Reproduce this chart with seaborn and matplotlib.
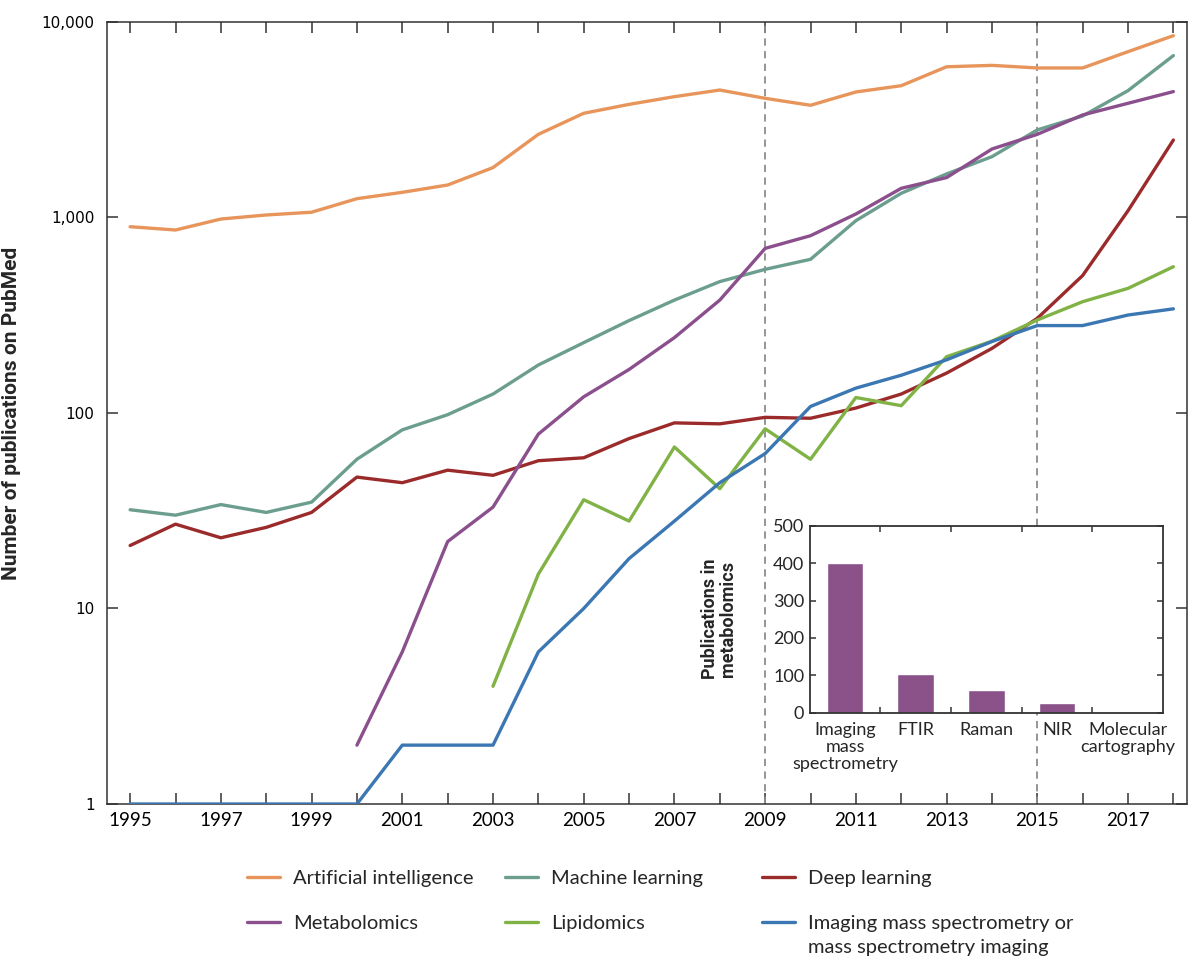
import numpy as np
import pandas as pd
import matplotlib
matplotlib.use("Agg")
import matplotlib.pyplot as plt
from matplotlib.lines import Line2D
from matplotlib.ticker import NullLocator, FixedLocator
import seaborn as sns

# publications per year on PubMed
years = list(range(1995, 2019))
nan = np.nan
artificial_intelligence = [897, 863, 982, 1030, 1064, 1248, 1345, 1466, 1800, 2663,
                           3412, 3790, 4150, 4487, 4070, 3750, 4385, 4722, 5900, 6000,
                           5820, 5820, 7050, 8510]
machine_learning = [32, 30, 34, 31, 35, 58, 82, 98, 125, 176,
                    229, 297, 378, 470, 543, 611, 963, 1330, 1670, 2047,
                    2805, 3306, 4455, 6730]
deep_learning = [21, 27, 23, 26, 31, 47, 44, 51, 48, 57,
                 59, 74, 89, 88, 95, 94, 106, 125, 160, 214,
                 305, 505, 1083, 2490]
metabolomics = [nan] * 5 + [2, 6, 22, 33, 78, 121, 167, 243, 378, 695,
                            807, 1042, 1410, 1600, 2240, 2663, 3345, 3838, 4405]
lipidomics = [nan] * 8 + [4, 15, 36, 28, 67, 41, 83, 58, 120, 109,
                          194, 233, 299, 371, 434, 560]
imaging_ms = [1, 1, 1, 1, 1, 1, 2, 2, 2, 6,
              10, 18, 28, 44, 62, 108, 134, 156, 187, 232,
              280, 280, 317, 341]

series_names = ["Artificial intelligence", "Machine learning", "Deep learning",
                "Metabolomics", "Lipidomics",
                "Imaging mass spectrometry or mass spectrometry imaging"]
legend_labels = ["Artificial intelligence", "Machine learning", "Deep learning",
                 "Metabolomics", "Lipidomics", "Imaging mass spectrometry or"]
legend_extra = "mass spectrometry imaging"
series_colors = ["#e8955c", "#6b9e8f", "#9b2b2b", "#8a4f8c", "#80b246", "#3b77b3"]

# inset: publications in metabolomics by technique
techniques = ["Imaging\nmass\nspectrometry", "FTIR", "Raman", "NIR", "Molecular\ncartography"]
technique_counts = [400, 103, 62, 27, 3]

marker_years = [2009, 2015]

sns.set_theme(style="ticks")
plt.rcParams["font.family"] = ["Lato", "DejaVu Sans"]
bold_family = ["Roboto", "DejaVu Sans"]
spine_col = "#333333"

df = pd.DataFrame({"year": years,
                   series_names[0]: artificial_intelligence,
                   series_names[1]: machine_learning,
                   series_names[2]: deep_learning,
                   series_names[3]: metabolomics,
                   series_names[4]: lipidomics,
                   series_names[5]: imaging_ms})
long_df = df.melt(id_vars="year", var_name="series", value_name="count").dropna()

fig = plt.figure(figsize=(11.89, 9.56), dpi=100)
ax = fig.add_axes([0.090, 0.159, 0.9083, 0.818])

for yr in marker_years:
    ax.axvline(yr, color="#8c8c8c", ls=(0, (4, 3)), lw=1.3, zorder=1)

sns.lineplot(data=long_df, x="year", y="count", hue="series",
             hue_order=series_names, palette=dict(zip(series_names, series_colors)),
             linewidth=2.4, estimator=None, errorbar=None, legend=False, ax=ax, zorder=3)

ax.set_yscale("log")
ax.set_ylim(1, 10000)
ax.set_xlim(1994.49, 2018.3)
ax.yaxis.set_major_locator(FixedLocator([1, 10, 100, 1000, 10000]))
ax.yaxis.set_minor_locator(NullLocator())
ax.set_yticklabels(["1", "10", "100", "1,000", "10,000"], family="DejaVu Sans", fontsize=11)
ax.set_xticks(years)
ax.set_xticklabels([str(y) if y % 2 == 1 else "" for y in years], fontsize=13.5)
ax.tick_params(axis="both", direction="in", length=8, width=1.1, color=spine_col,
               top=True, right=True, labelcolor="black")
ax.tick_params(axis="x", pad=6)
ax.tick_params(axis="y", pad=9)
for s in ax.spines.values():
    s.set_color(spine_col)
    s.set_linewidth(1.1)
ax.set_xlabel("")
ax.set_ylabel("Number of publications on PubMed", fontsize=15, fontweight="bold",
              family=bold_family)
ax.yaxis.set_label_coords(-0.0796, 0.5)

# inset bar chart
axin = fig.add_axes([0.681, 0.2545, 0.297, 0.1956])
axin.set_facecolor("white")
sns.barplot(x=techniques, y=technique_counts, color="#8b5189", saturation=1,
            width=0.52, ax=axin)
axin.set_xlim(-0.5, 4.5)
axin.set_ylim(0, 500)
axin.set_yticks([0, 100, 200, 300, 400, 500])
axin.tick_params(axis="y", direction="in", length=4, width=1.1, color=spine_col,
                 left=True, right=True, labelsize=13, pad=4)
axin.tick_params(axis="x", which="major", length=0, labelsize=13, pad=7)
axin.xaxis.set_minor_locator(FixedLocator([0.5, 1.5, 2.5, 3.5]))
axin.tick_params(axis="x", which="minor", direction="in", length=4, width=1.1,
                 color=spine_col, top=True, bottom=True)
for lab in axin.get_xticklabels():
    lab.set_linespacing(1.05)
for s in axin.spines.values():
    s.set_color(spine_col)
    s.set_linewidth(1.3)
axin.set_ylabel("Publications in\nmetabolomics", fontsize=13, fontweight="bold",
                family=bold_family, linespacing=1.05)
axin.yaxis.set_label_coords(-0.205, 0.5)

# legend: three fixed columns
col_x = [0.2077, 0.4247, 0.6409]
for c in range(3):
    idx = [c, c + 3]
    handles = [Line2D([], [], color=series_colors[i], lw=2.4) for i in idx]
    fig.legend(handles, [legend_labels[i] for i in idx], loc="upper left",
               bbox_to_anchor=(col_x[c], 0.0905), frameon=False, fontsize=14.5,
               handlelength=1.65, handletextpad=0.62, labelspacing=1.4,
               borderpad=0, borderaxespad=0)
fig.text(0.6796, 0.0085, legend_extra, fontsize=14.5, va="center", ha="left")

fig.savefig("out.png", dpi=100)
